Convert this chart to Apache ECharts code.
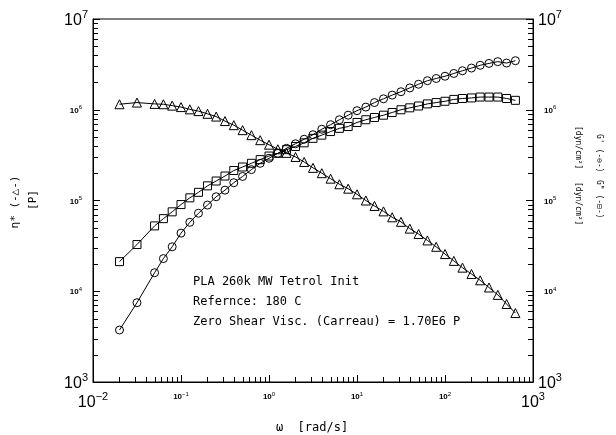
<!DOCTYPE html>
<html>
<head>
<meta charset="utf-8">
<script src="https://cdn.jsdelivr.net/npm/echarts@6/dist/echarts.min.js"></script>
<style>
  html, body { margin: 0; padding: 0; background: #fff; }
  #chart { width: 616px; height: 435px; }
</style>
</head>
<body>
<div id="chart"></div>
<script>
// Frequency sweep, rad/s
const omega = [
  0.0200, 0.0316, 0.0501, 0.0631, 0.0794, 0.100, 0.126, 0.158, 0.200, 0.251,
  0.316, 0.398, 0.501, 0.631, 0.794, 1.00, 1.26, 1.58, 2.00, 2.51,
  3.16, 3.98, 5.01, 6.31, 7.94, 10.0, 12.6, 15.8, 20.0, 25.1,
  31.6, 39.8, 50.1, 63.1, 79.4, 100, 126, 158, 200, 251,
  316, 398, 501, 631
];
// Complex viscosity, P
const etaStar = [
  1.15e6, 1.20e6, 1.16e6, 1.15e6, 1.11e6, 1.07e6, 1.01e6, 9.66e5, 9.02e5, 8.41e5,
  7.50e5, 6.76e5, 5.96e5, 5.25e5, 4.62e5, 4.12e5, 3.67e5, 3.35e5, 3.02e5, 2.66e5,
  2.29e5, 2.00e5, 1.74e5, 1.51e5, 1.35e5, 1.17e5, 1.00e5, 8.71e4, 7.59e4, 6.53e4,
  5.82e4, 4.90e4, 4.27e4, 3.63e4, 3.09e4, 2.57e4, 2.16e4, 1.82e4, 1.55e4, 1.32e4,
  1.10e4, 9.12e3, 7.24e3, 5.75e3
];
// Storage modulus G', dyn/cm2
const gPrime = [
  3.74e3, 7.48e3, 1.60e4, 2.29e4, 3.09e4, 4.37e4, 5.75e4, 7.24e4, 8.91e4, 1.10e5,
  1.30e5, 1.57e5, 1.84e5, 2.19e5, 2.57e5, 2.92e5, 3.31e5, 3.76e5, 4.22e5, 4.73e5,
  5.31e5, 6.10e5, 6.84e5, 7.76e5, 8.71e5, 9.77e5, 1.07e6, 1.20e6, 1.32e6, 1.45e6,
  1.58e6, 1.74e6, 1.91e6, 2.09e6, 2.21e6, 2.34e6, 2.51e6, 2.69e6, 2.88e6, 3.09e6,
  3.24e6, 3.39e6, 3.27e6, 3.47e6
];
// Loss modulus G'', dyn/cm2
const gDoublePrime = [
  2.12e4, 3.27e4, 5.25e4, 6.31e4, 7.50e4, 9.02e4, 1.07e5, 1.23e5, 1.45e5, 1.64e5,
  1.86e5, 2.14e5, 2.34e5, 2.57e5, 2.82e5, 3.09e5, 3.31e5, 3.63e5, 3.94e5, 4.32e5,
  4.84e5, 5.25e5, 5.75e5, 6.24e5, 6.53e5, 7.24e5, 7.76e5, 8.22e5, 8.71e5, 9.33e5,
  1.00e6, 1.05e6, 1.10e6, 1.16e6, 1.20e6, 1.24e6, 1.30e6, 1.33e6, 1.35e6, 1.38e6,
  1.38e6, 1.38e6, 1.33e6, 1.27e6
];
// Axis decades
const xDecades = [0.01, 0.1, 1, 10, 100, 1000];
const yDecades = [1e3, 1e4, 1e5, 1e6, 1e7];
const noteLines = [
  'PLA 260k MW Tetrol Init',
  'Refernce: 180 C',
  'Zero Shear Visc. (Carreau) = 1.70E6 P'
];
const xTitle = '\u03c9  [rad/s]';
const leftTitle = ['\u03b7* (-\u25b3-)', '[P]'];
const rightTitle = ['G\' (-\u2296-)', 'G" (-\u229f-)', '[dyn/cm\u00b2]', '[dyn/cm\u00b2]'];

// 2..9 subdivisions of every decade
function minorTicks(decades) {
  const out = [];
  for (let i = 0; i < decades.length - 1; i++) {
    for (let k = 2; k <= 9; k++) out.push(k * decades[i]);
  }
  return out;
}
const xMinor = minorTicks(xDecades);
const yMinor = minorTicks(yDecades);

const plotFont = '"DejaVu Sans Mono", monospace';
const tickFont = '"Liberation Sans", Arial, sans-serif';

const xMin = xDecades[0], xMax = xDecades[xDecades.length - 1];
const yMin = yDecades[0], yMax = yDecades[yDecades.length - 1];

function expOf(v) { return Math.round(Math.log10(v)); }
function powLabel(v, big, side) {
  const e = String(expOf(v)).replace('-', '\u2212');
  if (big) return '{b|10}{be|' + e + '}';
  if (side === 'left') return '{s|10}{sel|' + e + '}';
  if (side === 'right') return '{sr|10}{se|' + e + '}';
  return '{s|10}{se|' + e + '}';
}
function richStyles() {
  return {
    b: { fontSize: 16, fontFamily: tickFont, color: '#000', lineHeight: 20, verticalAlign: 'bottom' },
    be: { fontSize: 11, fontFamily: tickFont, color: '#000', lineHeight: 20, verticalAlign: 'top' },
    s: { fontSize: 8, fontFamily: tickFont, color: '#000', fontWeight: 'bold', lineHeight: 10, verticalAlign: 'bottom' },
    sr: { fontSize: 8, fontFamily: tickFont, color: '#000', fontWeight: 'bold', lineHeight: 10, verticalAlign: 'bottom', padding: [0, 0, 0, 6] },
    se: { fontSize: 6, fontFamily: tickFont, color: '#000', lineHeight: 10, verticalAlign: 'top' },
    sel: { fontSize: 6, fontFamily: tickFont, color: '#000', lineHeight: 10, verticalAlign: 'top', padding: [0, 6, 0, 0] }
  };
}

const lineColor = '#000';
function curve(name, values, symbol, size) {
  return {
    name: name,
    type: 'line',
    xAxisIndex: 0,
    yAxisIndex: 0,
    data: omega.map((w, i) => [w, values[i]]),
    symbol: symbol,
    symbolSize: size,
    showAllSymbol: true,
    lineStyle: { color: lineColor, width: 1 },
    itemStyle: { color: 'rgba(255,255,255,0)', borderColor: lineColor, borderWidth: 1 },
    emphasis: { disabled: true },
    animation: false,
    z: 3
  };
}

function valueAxis(extra) {
  return Object.assign({
    type: 'log', logBase: 10,
    axisLine: { show: true, onZero: false, lineStyle: { color: '#000', width: 1 } },
    axisTick: { show: true, inside: true, length: 7, lineStyle: { color: '#000' } },
    splitLine: { show: false }
  }, extra);
}

const chart = echarts.init(document.getElementById('chart'), null, { renderer: 'canvas' });

chart.setOption({
  backgroundColor: '#fff',
  animation: false,
  grid: {
    left: 93, top: 19, width: 440, height: 363,
    show: true, borderColor: '#000', borderWidth: 1,
    backgroundColor: 'transparent',
    outerBoundsMode: 'none'
  },
  xAxis: [valueAxis({
    min: xMin, max: xMax, splitNumber: 5, position: 'bottom',
    axisLabel: {
      show: true, margin: 9, showMinLabel: true, showMaxLabel: true,
      formatter: v => powLabel(v, expOf(v) === expOf(xMin) || expOf(v) === expOf(xMax), 'x'),
      rich: richStyles()
    }
  })],
  yAxis: [valueAxis({
    min: yMin, max: yMax, splitNumber: 4, position: 'left',
    axisLabel: {
      show: true, margin: 5, showMinLabel: true, showMaxLabel: true,
      formatter: v => powLabel(v, expOf(v) === expOf(yMin) || expOf(v) === expOf(yMax), 'left'),
      rich: richStyles()
    }
  }), valueAxis({
    min: yMin, max: yMax, splitNumber: 4, position: 'right',
    axisLabel: {
      show: true, margin: 5, showMinLabel: true, showMaxLabel: true,
      formatter: v => powLabel(v, expOf(v) === expOf(yMin) || expOf(v) === expOf(yMax), 'right'),
      rich: richStyles()
    }
  })],
  series: [
    curve('eta*', etaStar, 'triangle', 9),
    curve("G'", gPrime, 'circle', 8),
    curve('G"', gDoublePrime, 'rect', 8)
  ]
});

// Text annotations and axis titles
const elements = [
  { type: 'text', x: 193, y: 282, style: { text: noteLines[0], fill: '#000', font: '12px ' + plotFont, verticalAlign: 'middle' } },
  { type: 'text', x: 193, y: 302, style: { text: noteLines[1], fill: '#000', font: '12px ' + plotFont, verticalAlign: 'middle' } },
  { type: 'text', x: 193, y: 322, style: { text: noteLines[2], fill: '#000', font: '12px ' + plotFont, verticalAlign: 'middle' } },
  { type: 'text', x: 312, y: 428, style: { text: xTitle, fill: '#000', font: '12px ' + plotFont, align: 'center', verticalAlign: 'middle' } },
  { type: 'text', x: 15, y: 202, rotation: Math.PI / 2, style: { text: leftTitle[0], fill: '#000', font: '11px ' + plotFont, align: 'center', verticalAlign: 'middle' } },
  { type: 'text', x: 33, y: 200, rotation: Math.PI / 2, style: { text: leftTitle[1], fill: '#000', font: '11px ' + plotFont, align: 'center', verticalAlign: 'middle' } },
  { type: 'text', x: 599, y: 134, rotation: -Math.PI / 2, style: { text: rightTitle[0], fill: '#000', font: '8px ' + plotFont, align: 'left', verticalAlign: 'middle' } },
  { type: 'text', x: 599, y: 180, rotation: -Math.PI / 2, style: { text: rightTitle[1], fill: '#000', font: '8px ' + plotFont, align: 'left', verticalAlign: 'middle' } },
  { type: 'text', x: 578, y: 126, rotation: -Math.PI / 2, style: { text: rightTitle[2], fill: '#000', font: '8px ' + plotFont, align: 'left', verticalAlign: 'middle' } },
  { type: 'text', x: 578, y: 182, rotation: -Math.PI / 2, style: { text: rightTitle[3], fill: '#000', font: '8px ' + plotFont, align: 'left', verticalAlign: 'middle' } }
];

// Minor (2..9) inward ticks, placed with the chart's own axis scales
const finder = { gridIndex: 0 };
function tickLine(x1, y1, x2, y2) {
  return { type: 'line', silent: true, z: 10,
    shape: { x1: x1, y1: y1, x2: x2, y2: y2 },
    style: { stroke: '#000', lineWidth: 1 } };
}
xMinor.forEach(v => {
  const p = chart.convertToPixel(finder, [v, yMin]);
  const x = Math.round(p[0]) + 0.5;
  elements.push(tickLine(x, p[1], x, p[1] - 5));
});
yMinor.forEach(v => {
  const pl = chart.convertToPixel(finder, [xMin, v]);
  const pr = chart.convertToPixel(finder, [xMax, v]);
  const y = Math.round(pl[1]) + 0.5;
  elements.push(tickLine(pl[0], y, pl[0] + 5, y));
  elements.push(tickLine(pr[0], y, pr[0] - 5, y));
});

chart.setOption({ graphic: elements });
</script>
</body>
</html>
